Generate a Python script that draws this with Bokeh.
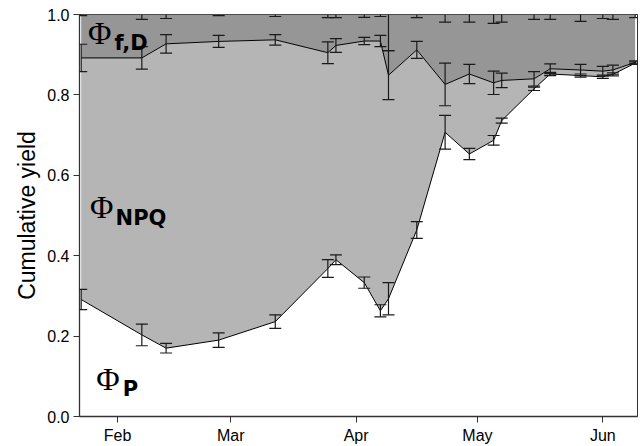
import pandas as pd
from bokeh.plotting import figure
from bokeh.models import (ColumnDataSource, Whisker, TeeHead, Label, Range1d,
                          DatetimeTickFormatter, FixedTicker, NumeralTickFormatter)
from bokeh.embed import file_html
from bokeh.resources import INLINE

# ---- data ----
dates = ["2003-01-23", "2003-02-07", "2003-02-13", "2003-02-26", "2003-03-12",
         "2003-03-25", "2003-03-27", "2003-04-03", "2003-04-07", "2003-04-09",
         "2003-04-16", "2003-04-23", "2003-04-29", "2003-05-05", "2003-05-07",
         "2003-05-15", "2003-05-19", "2003-05-26 12:00", "2003-06-01", "2003-06-03 12:00",
         "2003-06-09"]
# cumulative yield: Phi_P
phi_p = [0.291, 0.203, 0.170, 0.190, 0.236, 0.368, 0.390, 0.333, 0.263, 0.293,
         0.464, 0.707, 0.653, 0.687, 0.736, 0.815, 0.852, 0.848, 0.845, 0.851, 0.879]
phi_p_err = [0.025, 0.027, 0.012, 0.018, 0.017, 0.022, 0.012, 0.014, 0.015, 0.040,
             0.021, 0.042, 0.014, 0.012, 0.006, 0.004, 0.004, 0.004, 0.004, 0.004, 0.003]
# cumulative yield: Phi_P + Phi_NPQ
phi_npq = [0.892, 0.892, 0.927, 0.933, 0.937, 0.905, 0.923, 0.934, 0.934, 0.849,
           0.912, 0.826, 0.852, 0.830, 0.836, 0.840, 0.865, 0.862, 0.859, 0.862, 0.881]
phi_npq_err = [0.034, 0.028, 0.023, 0.015, 0.013, 0.027, 0.017, 0.009, 0.014, 0.061,
               0.021, 0.053, 0.024, 0.029, 0.018, 0.018, 0.012, 0.014, 0.012, 0.012, 0.004]
# cumulative yield: Phi_P + Phi_NPQ + Phi_f,D
phi_total = [1.0] * len(dates)
phi_fd_err = [0.003, 0.012, 0.010, 0.003, 0.005, 0.008, 0.008, 0.007, 0.005, 0.090,
              0.008, 0.019, 0.019, 0.022, 0.019, 0.012, 0.012, 0.017, 0.010, 0.012, 0.008]

month_ticks = ["2003-02-01", "2003-03-01", "2003-04-01", "2003-05-01", "2003-06-01"]
y_ticks = [0.0, 0.2, 0.4, 0.6, 0.8, 1.0]


def ms(s):
    return pd.Timestamp(s).value / 1e6


x = [ms(d) for d in dates]
src = ColumnDataSource(dict(
    x=x,
    p=phi_p, p_lo=[v - e for v, e in zip(phi_p, phi_p_err)], p_hi=[v + e for v, e in zip(phi_p, phi_p_err)],
    n=phi_npq, n_lo=[v - e for v, e in zip(phi_npq, phi_npq_err)], n_hi=[v + e for v, e in zip(phi_npq, phi_npq_err)],
    t=phi_total, t_lo=[v - e for v, e in zip(phi_total, phi_fd_err)],
))

p = figure(width=640, height=446, output_backend="svg", toolbar_location=None,
           x_axis_type="datetime",
           x_range=Range1d(ms("2003-01-22 14:00"), ms("2003-06-09 14:00")),
           y_range=Range1d(0, 1),
           min_border_left=79, min_border_right=3, min_border_top=14, min_border_bottom=30)
p.background_fill_color = "white"
p.border_fill_color = "white"
p.grid.visible = False
p.outline_line_color = "#333333"
p.outline_line_width = 1

dark = "#969696"
light = "#b5b5b5"
p.varea(x="x", y1="n", y2="t", source=src, fill_color=dark)
p.varea(x="x", y1="p", y2="n", source=src, fill_color=light)
p.line(x="x", y="n", source=src, line_color="black", line_width=1)
p.line(x="x", y="p", source=src, line_color="black", line_width=1)

ec = "#1a1a1a"
for lo, hi in (("p_lo", "p_hi"), ("n_lo", "n_hi")):
    w = Whisker(base="x", lower=lo, upper=hi, source=src, line_color=ec, line_width=1.2,
                level="annotation",
                upper_head=TeeHead(size=12, line_color=ec, line_width=1.2),
                lower_head=TeeHead(size=12, line_color=ec, line_width=1.2))
    p.add_layout(w)
w = Whisker(base="x", lower="t_lo", upper="t", source=src, line_color=ec, line_width=1.2,
            level="annotation", upper_head=None,
            lower_head=TeeHead(size=12, line_color=ec, line_width=1.2))
p.add_layout(w)

# axes
p.xaxis.ticker = FixedTicker(ticks=[ms(m) for m in month_ticks])
fmt = "%b"
p.xaxis.formatter = DatetimeTickFormatter(milliseconds=fmt, seconds=fmt, minsec=fmt, minutes=fmt,
                                          hourmin=fmt, hours=fmt, days=fmt, months=fmt, years=fmt)
p.yaxis.ticker = FixedTicker(ticks=y_ticks)
p.yaxis.formatter = NumeralTickFormatter(format="0.0")
p.yaxis.axis_label = "Cumulative yield"
for ax in (p.xaxis[0], p.yaxis[0]):
    ax.axis_line_color = "#333333"
    ax.axis_line_width = 1.3
    ax.major_tick_line_color = "#333333"
    ax.major_tick_out = 6
    ax.major_tick_in = 0
    ax.minor_tick_line_color = None
    ax.major_label_text_font = "Liberation Sans"
    ax.major_label_text_font_size = "16px"
    ax.major_label_text_color = "black"
    ax.major_label_standoff = 4
p.yaxis.axis_label_text_font = "Liberation Sans"
p.yaxis.axis_label_text_font_size = "23px"
p.yaxis.axis_label_text_font_style = "normal"
p.yaxis.axis_label_text_color = "black"
p.yaxis.axis_label_standoff = 4

# region labels
def phi_label(xd, yv, sub_xd, sub_yv, sub):
    p.add_layout(Label(x=ms(xd), y=yv, text="Φ", text_font="Liberation Serif",
                       text_font_size="32px", text_baseline="alphabetic", text_color="black"))
    p.add_layout(Label(x=ms(sub_xd), y=sub_yv, text=sub, text_font="DejaVu Sans",
                       text_font_style="bold", text_font_size="21px",
                       text_baseline="alphabetic", text_color="black"))

phi_label("2003-01-24 17:00", 0.955, "2003-01-31 05:00", 0.930, "f,D")
phi_label("2003-01-25 05:00", 0.522, "2003-01-31 12:00", 0.493, "NPQ")
phi_label("2003-01-26 17:00", 0.093, "2003-02-02 06:00", 0.068, "P")

open("out.html", "w").write(file_html(p, INLINE))
